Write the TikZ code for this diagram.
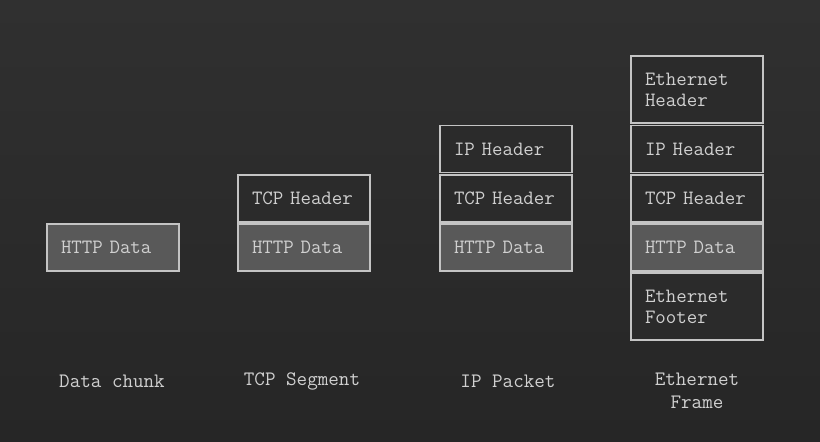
\documentclass[tikz,border=0pt]{standalone}
\usepackage{fontspec}
\begin{document}
\begin{tikzpicture}[x=1pt,y=-1pt,
  layer/.style={draw=boxline, line width=1.4pt, fill=bgmid, text=txt,
    font=\ttfamily\fontsize{20.3}{21}\selectfont,
    text width=104pt, inner xsep=14pt, inner ysep=0pt, align=left,
    minimum height=#1, outer sep=0pt},
  layer/.default=47pt,
  data/.style={layer, fill=datafill},
  caption/.style={text=txt, font=\ttfamily\fontsize{20.5}{23}\selectfont, align=center}]
\definecolor{boxline}{HTML}{C4C4C4}
\definecolor{txt}{HTML}{D0D0D0}
\definecolor{datafill}{HTML}{595959}
\definecolor{bgmid}{HTML}{2B2B2B}
\definecolor{bgtop}{HTML}{303030}
\definecolor{bgbot}{HTML}{262626}
\shade[top color=bgtop, bottom color=bgbot] (0,0) rectangle (820,442);
\useasboundingbox (0,0) rectangle (820,442);
% column 1
\node[data] (d1) at (113,247.5) {HTTP Data};
% column 2
\node[layer] (t2) at (304,198.5) {TCP Header};
\node[data] (d2) at (304,247.5) {HTTP Data};
% column 3
\node[layer] (i3) at (506,149) {IP Header};
\node[layer] (t3) at (506,198.5) {TCP Header};
\node[data] (d3) at (506,247.5) {HTTP Data};
% column 4
\node[layer=67pt] (e4) at (697,89.5) {Ethernet\\Header};
\node[layer] (i4) at (697,149) {IP Header};
\node[layer] (t4) at (697,198.5) {TCP Header};
\node[data] (d4) at (697,247.5) {HTTP Data};
\node[layer=67pt] (f4) at (697,306.5) {Ethernet\\Footer};
% captions
\node[caption] (c1) at (112,381) {Data chunk};
\node[caption] (c2) at (302,381) {TCP Segment};
\node[caption] (c3) at (508,381) {IP Packet};
\node[caption, anchor=north] (c4) at (697,369) {Ethernet\\Frame};
\end{tikzpicture}
\end{document}
